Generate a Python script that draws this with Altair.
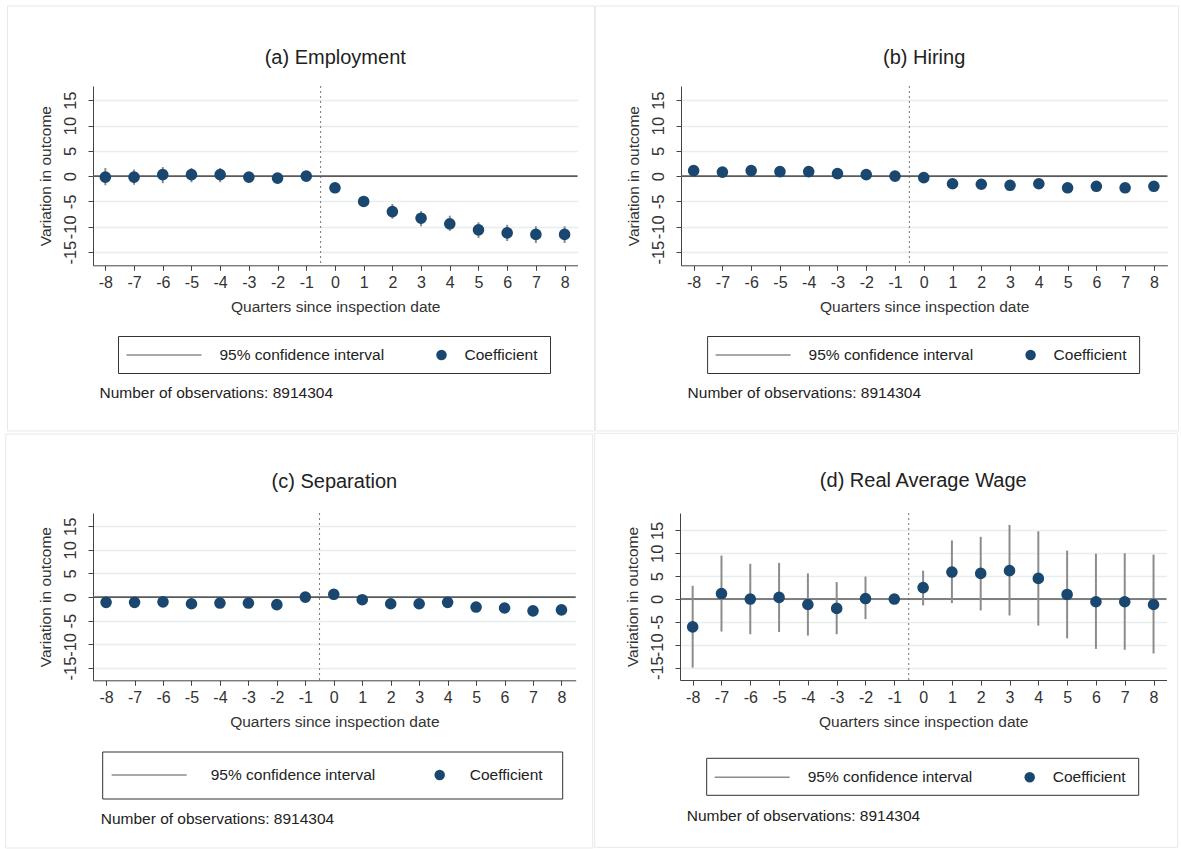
import altair as alt
import pandas as pd

# ---------------- data ----------------
quarters = list(range(-8, 9))

emp_coef = [-0.2, -0.2, 0.3, 0.3, 0.3, -0.2, -0.4, 0.0, -2.3, -5.0, -7.0, -8.3, -9.4, -10.6, -11.2, -11.5, -11.5]
emp_lo = [-1.8, -1.7, -1.4, -1.2, -1.2, -1.0, -1.1, 0.0, -3.2, -5.9, -8.4, -9.9, -10.8, -12.2, -12.8, -13.2, -13.2]
emp_hi = [1.6, 1.3, 1.8, 1.6, 1.6, 0.7, 0.1, 0.0, -1.4, -3.9, -5.5, -6.9, -7.8, -9.1, -9.6, -9.9, -9.9]

hir_coef = [1.1, 0.8, 1.1, 0.9, 0.9, 0.5, 0.3, 0.0, -0.3, -1.5, -1.6, -1.8, -1.5, -2.3, -2.0, -2.3, -2.0]
hir_lo = [0.6, 0.3, 0.6, 0.4, 0.4, 0.1, -0.1, 0.0, -0.7, -1.9, -2.0, -2.2, -1.9, -2.8, -2.5, -2.8, -2.5]
hir_hi = [1.6, 1.3, 1.6, 1.4, 1.4, 0.9, 0.7, 0.0, 0.1, -1.1, -1.2, -1.4, -1.1, -1.8, -1.5, -1.8, -1.5]

sep_coef = [-1.1, -1.1, -1.0, -1.4, -1.25, -1.25, -1.6, 0.0, 0.6, -0.55, -1.4, -1.4, -1.1, -2.1, -2.3, -2.9, -2.7]
sep_lo = [-1.5, -1.5, -1.4, -1.8, -1.65, -1.65, -2.0, 0.0, 0.2, -0.95, -1.8, -1.8, -1.5, -2.5, -2.7, -3.3, -3.1]
sep_hi = [-0.7, -0.7, -0.6, -1.0, -0.85, -0.85, -1.2, 0.0, 1.0, -0.15, -1.0, -1.0, -0.7, -1.7, -1.9, -2.5, -2.3]

wage_coef = [-6.1, 1.2, 0.0, 0.35, -1.2, -2.05, 0.1, 0.0, 2.5, 5.9, 5.6, 6.2, 4.5, 1.0, -0.6, -0.6, -1.2]
wage_lo = [-15.0, -7.1, -7.7, -7.2, -8.0, -7.7, -4.4, 0.0, -1.4, -0.9, -2.5, -3.6, -5.8, -8.6, -10.9, -11.1, -11.9]
wage_hi = [2.9, 9.5, 7.7, 7.9, 5.6, 3.7, 4.9, 0.0, 6.2, 12.8, 13.6, 16.2, 14.8, 10.6, 9.9, 10.0, 9.7]

titles = ["(a) Employment", "(b) Hiring", "(c) Separation", "(d) Real Average Wage"]
y_ticks = [-15, -10, -5, 0, 5, 10, 15]
x_title = "Quarters since inspection date"
y_title = "Variation in outcome"
legend_labels = ["95% confidence interval", "Coefficient"]
note_text = "Number of observations: 8914304"

# ---------------- styling / layout ----------------
FONT = "Liberation Sans"
NAVY = "#1a476f"
CI_GRAY = "#8c8c8c"
TXT = "#222222"
PLAIN_NUM = "'' + datum.value"


def panel(title, title_y, coef, lo, hi, plot, region, ydom, xdom, leg):
    px, py, w, h = plot
    df = pd.DataFrame({"q": quarters, "coef": coef, "lo": lo, "hi": hi})
    xsc = alt.Scale(domain=xdom, nice=False, zero=False)
    ysc = alt.Scale(domain=ydom, nice=False, zero=False)
    xax = alt.Axis(values=quarters, title=x_title, grid=False, labelFlush=False,
                   labelExpr=PLAIN_NUM,
                   labelFontSize=16, labelColor="#333333", labelPadding=4,
                   tickSize=5, tickColor="#444444", domainColor="#444444",
                   titleFontSize=15.5, titleFontWeight="normal", titleColor="#333333",
                   titlePadding=9)
    yax = alt.Axis(values=y_ticks, title=y_title, grid=True, gridColor="#e8edef",
                   gridWidth=1.5, labelAngle=270, labelAlign="center",
                   labelBaseline="bottom", labelOverlap=False, labelFlush=False,
                   labelExpr=PLAIN_NUM,
                   labelFontSize=16.5, labelColor="#333333", labelPadding=10,
                   tickSize=5, tickColor="#444444", domainColor="#444444",
                   titleFontSize=15.5, titleFontWeight="normal", titleColor="#333333",
                   titlePadding=9)

    def X(f):
        return alt.X(f"{f}:Q", scale=xsc, axis=xax)

    def Y(f):
        return alt.Y(f"{f}:Q", scale=ysc, axis=yax)

    one = alt.Data(values=[{"k": 0}])
    rx0, ry0, rx1, ry1 = region

    border = alt.Chart(one).mark_rect(filled=False, color="#e9e9e9", strokeWidth=1).encode(
        x=alt.value(rx0 - px), x2=alt.value(rx1 - px),
        y=alt.value(ry0 - py), y2=alt.value(ry1 - py))

    vline = alt.Chart(pd.DataFrame({"q": [-0.5]})).mark_rule(
        color="#777777", strokeWidth=1, strokeDash=[2, 3]).encode(x=X("q"))
    zero = alt.Chart(pd.DataFrame({"coef": [0.0]})).mark_rule(
        color="#5a5a5a", strokeWidth=1.6).encode(y=Y("coef"))
    ci = alt.Chart(df).mark_rule(color=CI_GRAY, strokeWidth=2).encode(
        x=X("q"), y=Y("lo"), y2=alt.Y2("hi"))
    pts = alt.Chart(df).mark_circle(size=135, color=NAVY, opacity=1).encode(
        x=X("q"), y=Y("coef"))

    ttl = alt.Chart(one).mark_text(text=title, fontSize=20, align="center",
                                   baseline="middle", color=TXT, font=FONT).encode(
        x=alt.value(w / 2), y=alt.value(title_y - py))

    (bx0, by0, bx1, by1), (lx0, lx1), cy, t1, cx, t2, (nx, ny) = leg
    box = alt.Chart(one).mark_rect(fill="white", stroke="#333333", strokeWidth=1).encode(
        x=alt.value(bx0 - px), x2=alt.value(bx1 - px),
        y=alt.value(by0 - py), y2=alt.value(by1 - py))
    lline = alt.Chart(one).mark_rule(color=CI_GRAY, strokeWidth=1.6).encode(
        x=alt.value(lx0 - px), x2=alt.value(lx1 - px), y=alt.value(cy - py))
    ldot = alt.Chart(one).mark_circle(size=110, color=NAVY, opacity=1).encode(
        x=alt.value(cx - px), y=alt.value(cy - py))
    ltxt1 = alt.Chart(one).mark_text(text=legend_labels[0], fontSize=15.5, align="left",
                                     baseline="middle", color=TXT, font=FONT).encode(
        x=alt.value(t1 - px), y=alt.value(cy - py))
    ltxt2 = alt.Chart(one).mark_text(text=legend_labels[1], fontSize=15.5, align="left",
                                     baseline="middle", color=TXT, font=FONT).encode(
        x=alt.value(t2 - px), y=alt.value(cy - py))
    note = alt.Chart(one).mark_text(text=note_text, fontSize=15.5, align="left",
                                    baseline="middle", color=TXT, font=FONT).encode(
        x=alt.value(nx - px), y=alt.value(ny - py))

    return alt.layer(border, vline, zero, ci, pts, ttl, box, lline, ldot,
                     ltxt1, ltxt2, note).properties(width=w, height=h)


A = panel(titles[0], 57, emp_coef, emp_lo, emp_hi,
          plot=(90.5, 85, 484.5, 179.3), region=(5, 5, 592, 430),
          ydom=[-17.6, 17.8], xdom=[-8.43, 8.45],
          leg=((116, 335.5, 548, 372.5), (124, 199), 354, 217, 439, 462, (97, 392)))
B = panel(titles[1], 57, hir_coef, hir_lo, hir_hi,
          plot=(678.4, 85, 486.4, 179.3), region=(593, 5, 1176, 430),
          ydom=[-17.6, 17.8], xdom=[-8.44, 8.47],
          leg=((705, 335.5, 1137, 372.5), (713, 788), 354, 806, 1028, 1051, (685, 392)))
C = panel(titles[2], 479, sep_coef, sep_lo, sep_hi,
          plot=(92.3, 510, 482.7, 167.3), region=(5, 431, 592, 845),
          ydom=[-17.6, 17.8], xdom=[-8.46, 8.5],
          leg=((102, 749, 562, 796), (111, 186), 772, 210, 439, 469, (100, 816)))
D = panel(titles[3], 479, wage_coef, wage_lo, wage_hi,
          plot=(678.3, 510.7, 486.5, 167), region=(593, 431, 1176, 845),
          ydom=[-17.7, 18.8], xdom=[-8.44, 8.45],
          leg=((705, 756, 1137, 793), (713, 788), 775, 806, 1028, 1051, (685, 814)))

row1 = alt.hconcat(A, B, spacing=0)
row2 = alt.hconcat(C, D, spacing=0)
chart = alt.vconcat(row1, row2, spacing=0).properties(
    padding={"left": 5, "top": 5, "right": 0, "bottom": 0},
    background="white",
).configure_view(stroke=None).configure_axis(
    labelFont=FONT, titleFont=FONT
).configure_text(font=FONT)

chart.save("out.html", embed_options={"renderer": "svg", "actions": False})
